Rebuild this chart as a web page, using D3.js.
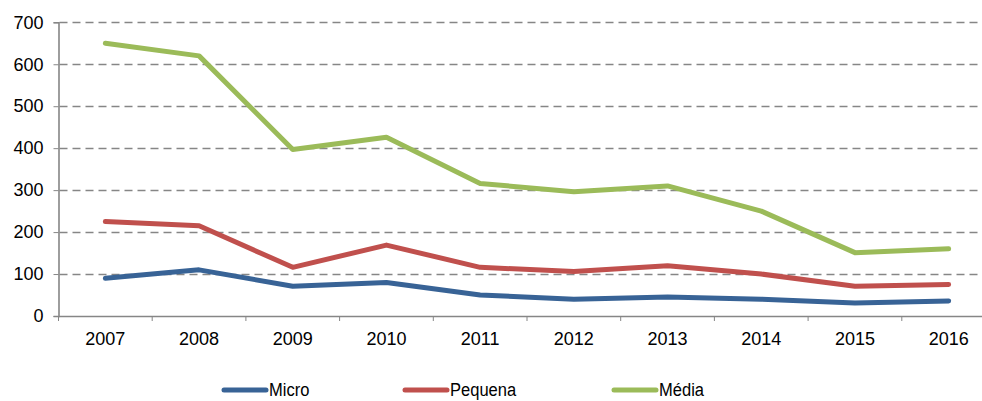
<!DOCTYPE html>
<html>
<head>
<meta charset="utf-8">
<script src="https://cdn.jsdelivr.net/npm/d3@7"></script>
<style>
  body { margin: 0; background: #fff; }
  svg { display: block; font-family: "Liberation Sans", Arial, sans-serif; }
</style>
</head>
<body>
<div class="chart"></div>
<script>
var years = ["2007","2008","2009","2010","2011","2012","2013","2014","2015","2016"];
var micro = [90, 110, 71, 80, 50, 40, 45, 40, 31, 36];
var pequena = [225, 215, 116, 169, 116, 106, 120, 100, 71, 75];
var media = [650, 620, 397, 426, 316, 296, 310, 250, 151, 160];
var yTicks = [0, 100, 200, 300, 400, 500, 600, 700];
var seriesNames = ["Micro", "Pequena", "Média"];
var seriesColors = ["#386396", "#c0504d", "#9bbb59"];

var W = 982, H = 401;
var plotLeft = 58.5, plotRight = 995.5, plotTop = 22.3, plotBottom = 316;

var svg = d3.select(".chart").append("svg")
  .attr("width", W).attr("height", H);

var x = d3.scaleBand().domain(years).range([plotLeft, plotRight]);
var y = d3.scaleLinear().domain([0, 700]).range([plotBottom, plotTop]);

// gridlines
svg.append("g").selectAll("line")
  .data(yTicks.filter(function(d){ return d > 0; }))
  .enter().append("line")
  .attr("x1", plotLeft + 1).attr("x2", W)
  .attr("y1", function(d){ return Math.round(y(d)) + 0.5; })
  .attr("y2", function(d){ return Math.round(y(d)) + 0.5; })
  .style("stroke", "#868686")
  .style("stroke-width", "1.4px")
  .style("stroke-dasharray", "8,5");

// y axis
var yAxis = svg.append("g")
  .attr("transform", "translate(" + plotLeft + ",0)")
  .call(d3.axisLeft(y).tickValues(yTicks).tickSize(5).tickPadding(10));
yAxis.selectAll("text").style("font-size", "18px").style("fill", "#000");

// x axis
var xAxis = svg.append("g")
  .attr("transform", "translate(0," + plotBottom + ")")
  .call(d3.axisBottom(x).tickSize(0).tickPadding(16));
xAxis.selectAll("text").style("font-size", "18px").style("fill", "#000");
// ticks between categories
xAxis.selectAll(".sep")
  .data(years)
  .enter().append("line")
  .attr("x1", function(d){ return x(d); })
  .attr("x2", function(d){ return x(d); })
  .attr("y1", 0).attr("y2", 5)
  .style("stroke", "#868686");

svg.selectAll(".domain").style("stroke", "#868686").style("stroke-width", "1.6px");
yAxis.selectAll(".tick line").style("stroke", "#868686");

// lines
var lineGen = d3.line()
  .x(function(d, i){ return x(years[i]) + x.bandwidth() / 2; })
  .y(function(d){ return y(d); });

[micro, pequena, media].forEach(function(s, i){
  svg.append("path")
    .datum(s)
    .attr("d", lineGen)
    .style("fill", "none")
    .style("stroke", seriesColors[i])
    .style("stroke-width", "5px")
    .style("stroke-linejoin", "round")
    .style("stroke-linecap", "round");
});

// legend
var legendX = [224, 405, 614];
var legend = svg.append("g");
seriesNames.forEach(function(name, i){
  legend.append("line")
    .attr("x1", legendX[i]).attr("x2", legendX[i] + 42)
    .attr("y1", 390).attr("y2", 390)
    .style("stroke", seriesColors[i])
    .style("stroke-width", "5px")
    .style("stroke-linecap", "round");
  legend.append("text")
    .attr("transform", "translate(" + (legendX[i] + 45) + ",396) scale(0.87,1)")
    .style("font-size", "19px")
    .text(name);
});
</script>
</body>
</html>
